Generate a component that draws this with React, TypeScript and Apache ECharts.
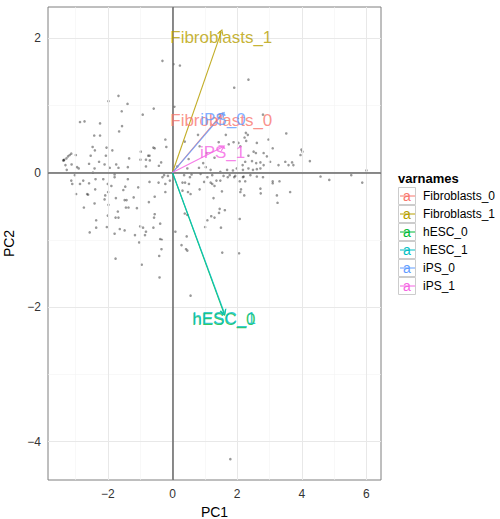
import React, { useEffect, useRef } from "react";
import * as echarts from "echarts";

// ---- data ----
const varnames = ["Fibroblasts_0", "Fibroblasts_1", "hESC_0", "hESC_1", "iPS_0", "iPS_1"];
const arrowX = [1.51, 1.51, 1.59, 1.6, 1.56, 1.55];
const arrowY = [0.86, 2.09, -2.09, -2.08, 0.87, 0.38];
const varColors = ["#F8766D", "#B79F00", "#00BA38", "#00BFC4", "#619CFF", "#F564E3"];

const xTicks = [-2, 0, 2, 4, 6];
const yTicks = [-4, -2, 0, 2];
const xMinor = [-3, -1, 1, 3, 5];
const yMinor = [-3, -1, 1];

const pcX = [
  -1.67, -1.98, -1.39, -1.57, -2.86, -2.72, -2.24, -1.56, -1.65, -2.42, -2.24, -2.47, -2.4, -2.04, -1.86, -2.99,
  -2.53, -2.06, -1.34, -2.27, -2.58, -2.1, -1.74, -3.12, -1.94, -1.67, -1.38, -2.41, -2.95, -2.9,
  -3.38, -3.36, -3.35, -3.28, -3.23, -3.18, -3.13, -3.31, -3.27, -3.02, -2.46, -1.79,
  -0.31, 0.03, 0.23, -0.58, -0.92, 0.06, -0.22, -0.59, -0.19, -0.98, -0.75, -0.71, -0.99, -0.82, -0.7, -0.35,
  -0.42, -0.82, -0.26, -0.14, 0.15, 0.46, 0.36, 0.59, 0.87, 1.23, 0.82, 1.03, 1.18, -0.55,
  2.35, 1.91, 2.8, 3.52, 2.27, 2.33, 2.23, 2.28, 1.65, 2.97, 1.43, 1.74, 1.89, 2.04, 2.1, 2.61, 2.51, 2.58, 2.82,
  2.92, 3.1, 2.35, 2.25, 2.17, 2.46, 2.59, 2.72, 2.82, 3.02, 3.28, 3.49, 3.59, 3.7, 3.74, 2.35, 2.49, 2.61, 2.72,
  1.48, 1.69, 1.87, 1.99, 2.18, 1.58, 1.77, 1.94, 2.2, 2.41, 2.61,
  3.99, 4.02, 3.96, 4.25, 6.0, 4.58, 5.53, 4.85, 5.87,
  -3.13, -3.1, -2.76, -2.86, -2.58, -2.38, -2.14, -1.79, -1.38, -2.0, -1.89, -1.46, -1.52, -2.39, -1.99, -2.98,
  -2.64, -2.61, -2.08, -2.1, -1.75, -1.48, -1.42, -2.41, -1.98, -2.74, -1.44, -1.36, -1.69, -1.76, -1.67, -2.0,
  -2.36, -2.03, -2.36, -1.63, -1.48, -2.56, -1.79, -1.76,
  -1.06, -1.2, -0.71, -0.43, -0.31, -0.22, -0.08, -0.22, -0.55, -0.73, -1.1, -0.55, -0.57, -1.0, -0.91, -0.59,
  -0.38, -0.82, -0.85, -1.16, -0.38, -0.33, -1.03, -0.34, -0.41, -0.95, -0.4,
  0.31, 0.39, 0.51, 0.54, 0.98, 1.08, 1.18, 1.23, 0.31, 0.48, 0.56, 0.84, 0.38, 0.46, 1.2, 1.08, 1.01, 0.09, 0.44,
  0.28, 0.42, 0.46, 0.56,
  1.36, 1.48, 1.71, 1.91, 2.18, 2.08, 2.25, 2.8, 3.1, 3.31, 3.1, 1.3, 1.53, 2.12, 2.1, 2.22, 2.72, 2.73, 3.64,
  3.23, 3.25, 1.27, 1.46, 1.44, 1.62, 1.3, 1.5, 2.08, 1.54, 2.06,
  0.79, 0.84, 0.38, 1.05, 0.5, 0.95, 1.3,
  1.79,
];
const pcY = [
  1.14, 1.06, 1.02, 0.91, 0.75, 0.76, 0.73, 0.69, 0.61, 0.55, 0.55, 0.38, 0.33, 0.37, 0.33, 0.26,
  0.25, 0.25, 0.21, 0.16, 0.13, 0.12, 0.12, 0.12, 0.07, 0.07, 0.08, 0.06, 0.08, 0.06,
  0.18, 0.18, 0.19, 0.21, 0.24, 0.26, 0.28, 0.11, 0.04, -0.04, 0.0, -0.03,
  1.66, 1.61, 1.59, 0.95, 0.86, 0.98, 0.49, 0.37, 0.38, 0.31, 0.25, 0.25, 0.19, 0.19, 0.18, 0.15,
  0.1, 0.09, -0.04, -0.05, 0.09, 0.06, -0.04, -0.03, -0.02, -0.04, 0.07, 0.08, 0.04, 0.36,
  1.38, 1.26, 0.86, 0.58, 0.59, 0.56, 0.52, 0.47, 0.56, 0.49, 0.45, 0.42, 0.45, 0.44, 0.39, 0.44, 0.31, 0.29, 0.29,
  0.24, 0.36, 0.25, 0.16, 0.11, 0.17, 0.14, 0.15, 0.11, 0.16, 0.11, 0.16, 0.11, 0.15, 0.11, 0.06, 0.04, 0.05, 0.06,
  0.01, 0.04, 0.03, 0.06, 0.04, -0.05, -0.04, -0.05, -0.06, -0.04, -0.06,
  0.34, 0.31, 0.26, 0.17, 0.03, -0.06, -0.04, -0.11, -0.15,
  -0.12, -0.17, -0.12, -0.17, -0.16, -0.1, -0.1, -0.07, -0.1, -0.17, -0.2, -0.21, -0.26, -0.25, -0.29, -0.32,
  -0.32, -0.33, -0.34, -0.4, -0.38, -0.41, -0.41, -0.46, -0.48, -0.52, -0.52, -0.52, -0.58, -0.67, -0.67, -0.64,
  -0.71, -0.81, -0.82, -0.84, -0.86, -0.89, -0.91, -1.28,
  -0.22, -0.37, -0.14, -0.15, -0.07, -0.17, -0.12, -0.29, -0.36, -0.44, -0.53, -0.62, -0.67, -0.8, -0.82, -0.82,
  -0.76, -0.88, -0.93, -0.93, -0.99, -1.0, -1.04, -1.14, -1.24, -1.37, -1.56,
  -0.15, -0.15, -0.17, -0.07, -0.14, -0.07, -0.15, -0.17, -0.27, -0.29, -0.32, -0.25, -0.61, -0.63, -0.65, -0.71,
  -0.81, -0.88, -0.95, -1.08, -1.14, -1.16, -1.83,
  -0.12, -0.12, -0.07, -0.07, -0.07, -0.13, -0.13, -0.07, -0.13, -0.13, -0.16, -0.2, -0.28, -0.25, -0.29, -0.34,
  -0.24, -0.31, -0.29, -0.34, -0.45, -0.38, -0.54, -0.6, -0.56, -0.67, -0.82, -0.69, -1.19, -1.2,
  0.56, 0.39, 0.46, 0.29, 0.2, 0.14, 0.22,
  -4.26,
];

const FONT = "Liberation Sans, Arial, Helvetica, sans-serif";
const fmtMinus = (v: number) => String(v).replace("-", "\u2212");

export default function App() {
  const ref = useRef<HTMLDivElement>(null);
  useEffect(() => {
    if (!ref.current) return;
    const chart = echarts.init(ref.current, null, { renderer: "svg" });
    const points = pcX.map((x, i) => [x, pcY[i]]);
    const chevron = "path://M5,0 L10,10 L8.2,10 L5,3.6 L1.8,10 L0,10 Z";

    const arrowSeries = varnames.map((name, i) => ({
      type: "line",
      name,
      data: [],
      silent: true,
      markLine: {
        silent: true,
        animation: false,
        symbol: ["none", chevron],
        symbolSize: [7, 6],
        label: { show: false },
        lineStyle: { color: varColors[i], width: 1.1, type: "solid", opacity: 0.85 },
        emphasis: { disabled: true },
        data: [[{ coord: [0, 0] }, { coord: [arrowX[i], arrowY[i]] }]],
      },
    }));

    const labelSeries = varnames.map((name, i) => ({
      type: "scatter",
      name: name + "_lab",
      silent: true,
      symbolSize: 1,
      itemStyle: { color: "rgba(0,0,0,0)" },
      data: [{ value: [arrowX[i], arrowY[i]], name }],
      label: {
        show: true,
        position: "inside",
        offset: [0, 6],
        formatter: name,
        color: varColors[i],
        fontSize: 17,
        fontFamily: FONT,
      },
      z: 5,
    }));

    const legendChildren: any[] = [
      {
        type: "text",
        x: 398,
        y: 178,
        style: { text: "varnames", font: `bold 13px ${FONT}`, fill: "#000", verticalAlign: "middle" },
      },
    ];
    varnames.forEach((name, i) => {
      const cy = 196 + 18 * i;
      legendChildren.push(
        { type: "rect", shape: { x: 398.5, y: cy - 8.5, width: 17, height: 17 }, style: { fill: "#fff", stroke: "#cccccc", lineWidth: 1 } },
        { type: "line", shape: { x1: 400, y1: cy, x2: 415, y2: cy }, style: { stroke: varColors[i], lineWidth: 1 } },
        { type: "text", x: 407, y: cy, style: { text: "a", font: `14px ${FONT}`, fill: varColors[i], align: "center", verticalAlign: "middle" } },
        { type: "text", x: 423, y: cy, style: { text: name, font: `12px ${FONT}`, fill: "#000", verticalAlign: "middle" } }
      );
    });

    chart.setOption({
      animation: false,
      backgroundColor: "#fff",
      textStyle: { fontFamily: FONT },
      grid: {
        left: 48,
        top: 7,
        width: 333,
        height: 473,
        outerBoundsMode: "none",
        containLabel: false,
        show: true,
        borderColor: "#7f7f7f",
        borderWidth: 1,
        backgroundColor: "#fff",
      },
      xAxis: {
        type: "value",
        min: -3.85,
        max: 6.45,
        name: "PC1",
        nameLocation: "middle",
        nameGap: 21,
        nameTextStyle: { fontSize: 14, color: "#000", fontFamily: FONT },
        axisLine: { show: false },
        splitLine: { show: false },
        axisTick: { show: true, customValues: xTicks, length: 4, lineStyle: { color: "#333" } },
        axisLabel: { customValues: xTicks, formatter: fmtMinus, color: "#333", fontSize: 12, margin: 8, fontFamily: FONT },
      },
      yAxis: {
        type: "value",
        min: -4.57,
        max: 2.46,
        name: "PC2",
        nameLocation: "middle",
        nameGap: 26,
        nameTextStyle: { fontSize: 14, color: "#000", fontFamily: FONT },
        axisLine: { show: false },
        splitLine: { show: false },
        axisTick: { show: true, customValues: yTicks, length: 4, lineStyle: { color: "#333" } },
        axisLabel: { customValues: yTicks, formatter: fmtMinus, color: "#333", fontSize: 12, margin: 7, fontFamily: FONT },
      },
      graphic: [{ type: "group", children: legendChildren }],
      series: [
        {
          type: "line",
          data: [],
          silent: true,
          markLine: {
            silent: true,
            animation: false,
            symbol: ["none", "none"],
            label: { show: false },
            lineStyle: { color: "#f4f4f4", width: 0.6, type: "solid" },
            data: [...xMinor.map((v) => ({ xAxis: v })), ...yMinor.map((v) => ({ yAxis: v }))],
          },
        },
        {
          type: "line",
          data: [],
          silent: true,
          markLine: {
            silent: true,
            animation: false,
            symbol: ["none", "none"],
            label: { show: false },
            lineStyle: { color: "#e8e8e8", width: 1, type: "solid" },
            data: [...xTicks.map((v) => ({ xAxis: v })), ...yTicks.map((v) => ({ yAxis: v }))],
          },
        },
        {
          type: "line",
          data: [],
          silent: true,
          markLine: {
            silent: true,
            animation: false,
            symbol: ["none", "none"],
            label: { show: false },
            lineStyle: { color: "#666", width: 1.5, type: "solid" },
            data: [{ xAxis: 0 }, { yAxis: 0 }],
          },
        },
        {
          type: "scatter",
          data: points,
          symbolSize: 2.6,
          silent: true,
          itemStyle: { color: "rgba(0,0,0,0.5)" },
        },
        ...arrowSeries,
        ...labelSeries,
      ],
    } as any);
    return () => chart.dispose();
  }, []);
  return <div ref={ref} style={{ position: "absolute", left: 0, top: 0, width: 500, height: 519 }} />;
}
